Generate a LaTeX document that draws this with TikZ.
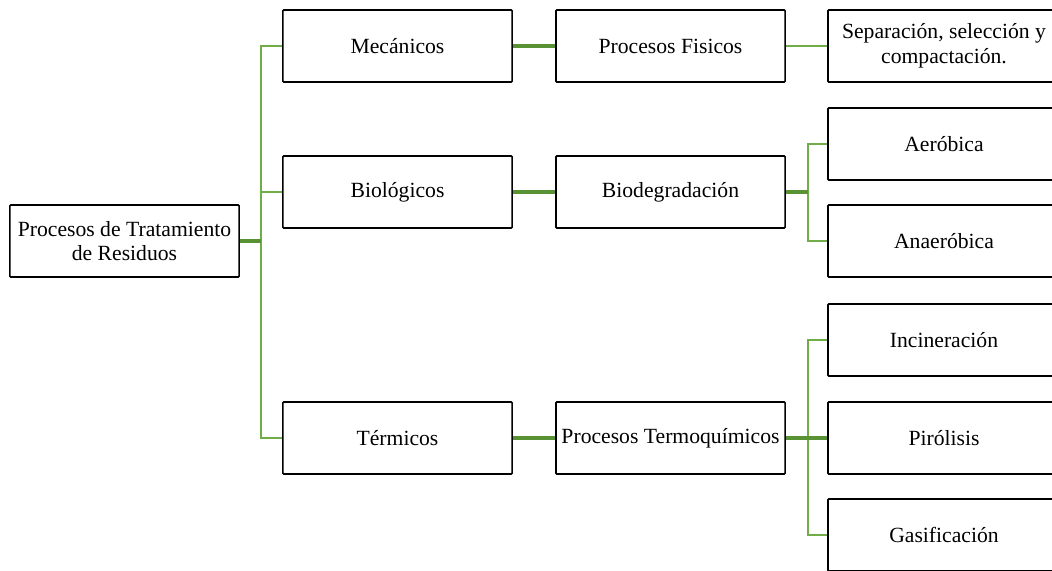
\documentclass[tikz,border=0pt]{standalone}
\usepackage{fontspec}
\setmainfont{Liberation Serif}
\usepackage{tikz}
\usetikzlibrary{positioning}
\definecolor{linkgreen}{RGB}{112,173,71}
\definecolor{stubgreen}{RGB}{88,146,52}

\begin{document}
\begin{tikzpicture}[
    x=0.025cm, y=-0.025cm,
    box/.style={draw, line width=1.1pt, rounded corners=0.6pt, minimum width=5.725cm, minimum height=1.8cm,
      align=center, inner sep=2pt, font=\fontsize{15.4}{17.5}\selectfont},
    leaf/.style={box, minimum width=5.8cm},
    link/.style={draw=linkgreen, line width=1.5pt},
    stub/.style={draw=stubgreen, line width=2.8pt}
  ]
    \useasboundingbox (0,0) rectangle (1052,571);

    % levels
    \node[box] (root) at (124.5,241) {Procesos de Tratamiento\\de Residuos};

    \node[box] (meca) at (397.5,46) {Mecánicos};
    \node[box] (bio) at (397.5,192) {Biológicos};
    \node[box] (term) at (397.5,438) {Térmicos};

    \node[box] (fis) at (670.5,46) {Procesos Fisicos};
    \node[box] (biodeg) at (670.5,192) {Biodegradación};
    \node[box] (termo) at (670.5,438) {Procesos Termoquímicos};

    \node[leaf] (sep) at (944,46) {Separación, selección y\\compactación.};
    \node[leaf] (aero) at (944,144) {Aeróbica};
    \node[leaf] (anaero) at (944,241) {Anaeróbica};
    \node[leaf] (incin) at (944,340) {Incineración};
    \node[leaf] (piro) at (944,438) {Pirólisis};
    \node[leaf] (gasif) at (944,535) {Gasificación};

    % branch points
    \coordinate (sp1) at (261,241);
    \coordinate (sp2) at (808,192);
    \coordinate (sp3) at (808,438);

    \draw[link] (sp1) |- (meca.west);
    \draw[link] (sp1) |- (bio.west);
    \draw[link] (sp1) |- (term.west);
    \draw[stub] (root.east) -- (sp1);

    \draw[link] (sp2) |- (aero.west);
    \draw[link] (sp2) |- (anaero.west);
    \draw[stub] (biodeg.east) -- (sp2);

    \draw[link] (sp3) |- (incin.west);
    \draw[link] (sp3) |- (gasif.west);
    \draw[stub] (termo.east) -- (piro.west);

    \draw[stub] (meca.east) -- (fis.west);
    \draw[stub] (bio.east) -- (biodeg.west);
    \draw[stub] (term.east) -- (termo.west);
    \draw[link, line width=2.1pt] (fis.east) -- (sep.west);
  \end{tikzpicture}
\end{document}
